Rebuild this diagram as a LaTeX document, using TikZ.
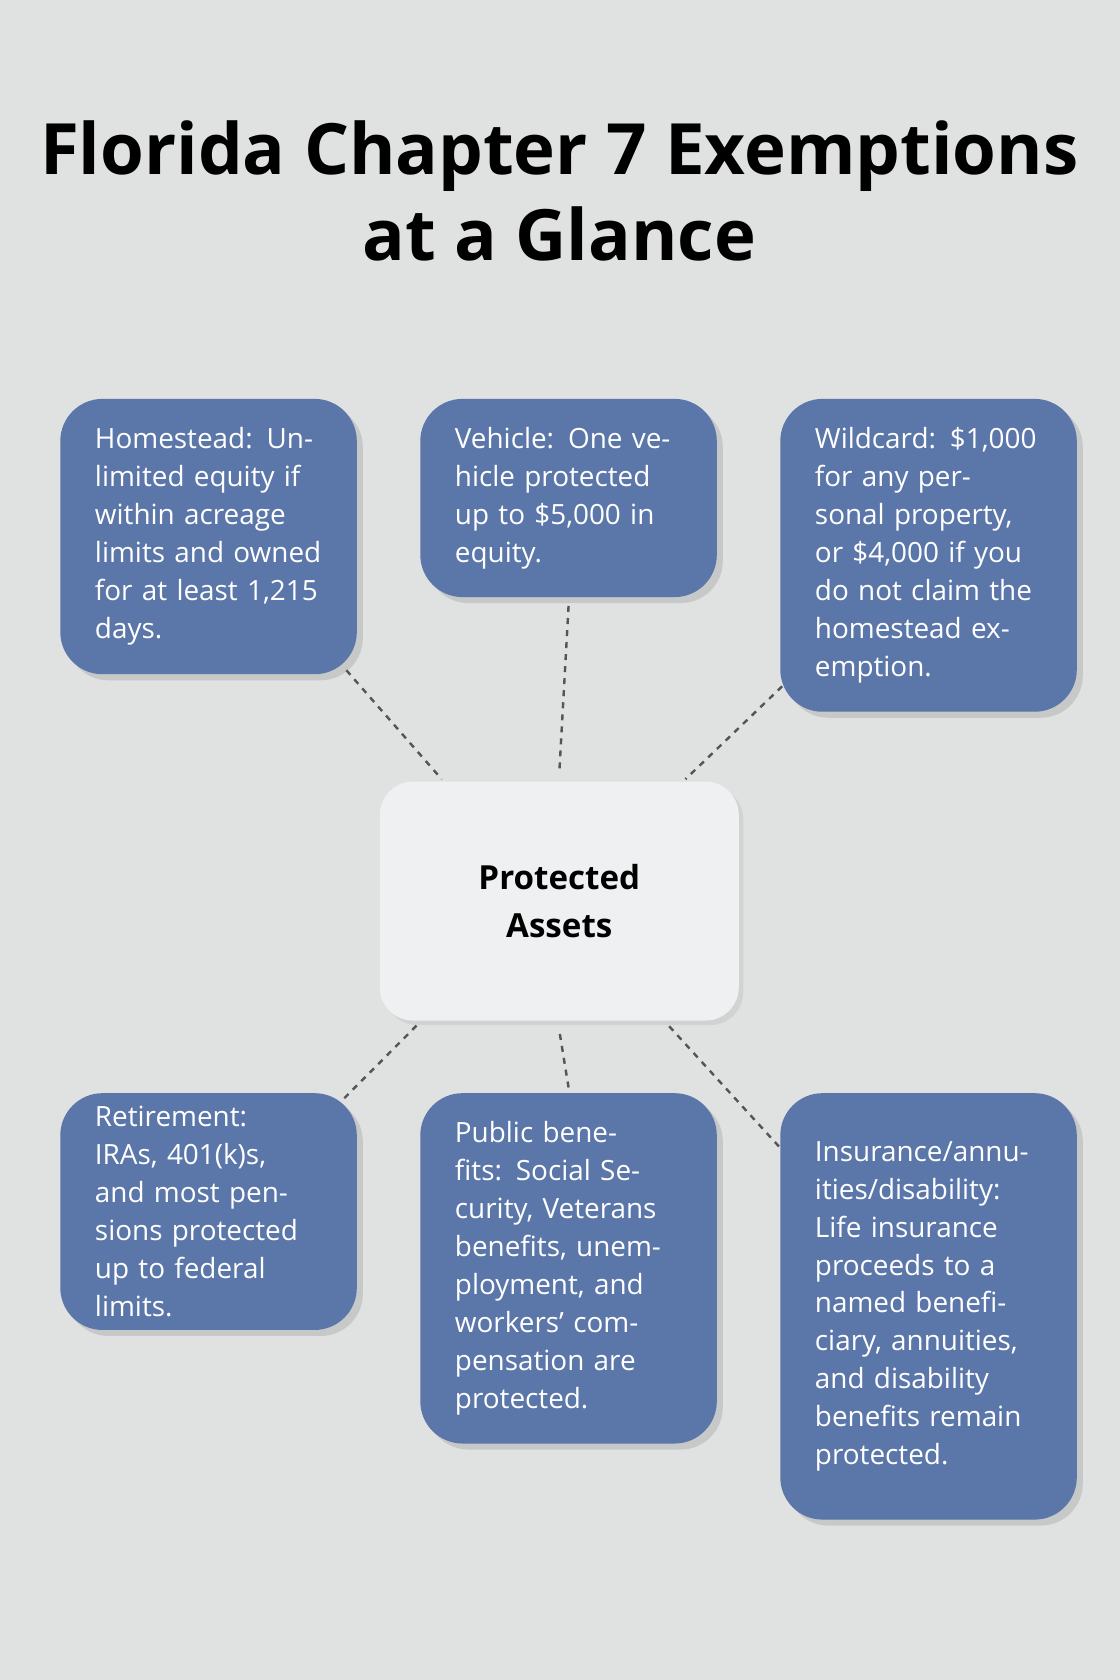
\documentclass[tikz,border=0pt]{standalone}
\usepackage{fontspec}
\setmainfont{Open Sans}
\usetikzlibrary{positioning, calc, shadows}
\definecolor{pagebg}{HTML}{E0E1E1}
\definecolor{cardblue}{HTML}{5B76A8}
\definecolor{hubfill}{HTML}{EFF0F2}
\definecolor{linkgray}{HTML}{555555}
\tikzset{
    card/.style={
        rectangle, rounded corners=28, anchor=north west, fill=cardblue,
        text=white, align=left, inner xsep=23, inner ysep=0,
        text width=5.3cm, font=\fontsize{18.5}{25.2}\selectfont,
        drop shadow={opacity=0.25, shadow xshift=4pt, shadow yshift=-4pt}
    },
    hub/.style={
        rectangle, rounded corners=22, fill=hubfill, text=black, align=center,
        minimum width=335*0.025cm, minimum height=223*0.025cm,
        font=\fontsize{22}{32}\selectfont\bfseries,
        drop shadow={opacity=0.15, shadow xshift=3pt, shadow yshift=-3pt}
    },
    link/.style={draw=linkgray, line width=1.6pt, dash pattern=on 4pt off 4pt},
}
\begin{document}
\begin{tikzpicture}[x=0.025cm, y=-0.025cm]
    \fill[pagebg] (0,0) rectangle (1045,1568);
    \useasboundingbox (0,0) rectangle (1045,1568);

    \node[font=\fontsize{47}{57}\selectfont\bfseries, align=center] (title) at (522,178)
        {Florida Chapter 7 Exemptions\\at a Glance};

    \node[hub] (hub) at (522,841) {Protected\\Assets};

    % top row
    \node[card, minimum height=257*0.025cm] (home) at (56,372)
        {Homestead: Unlimited equity if within acreage limits and owned for at least 1,215 days.};
    \node[card, minimum height=185*0.025cm] (car) at (392,372)
        {Vehicle: One vehicle protected up to \$5,000 in equity.};
    \node[card, minimum height=292*0.025cm] (wild) at (728,372)
        {Wildcard: \$1,000 for any personal property, or \$4,000 if you do not claim the homestead exemption.};

    % bottom row
    \node[card, minimum height=221*0.025cm] (retire) at (56,1020)
        {Retirement: IRAs, 401(k)s, and most pensions protected up to federal limits.};
    \node[card, minimum height=327*0.025cm] (public) at (392,1020)
        {Public benefits: Social Security, Veterans benefits, unemployment, and workers’ compensation are protected.};
    \node[card, minimum height=398*0.025cm] (insure) at (728,1020)
        {Insurance/annu-\\ities/disability: Life insurance proceeds to a named beneficiary, annuities, and disability benefits remain protected.};

    \draw[link] ($(home.south east)+(-10,-4)$) -- ($(hub.north west)+(58,-2)$);
    \draw[link] ($(car.south)+(0,8)$) -- ($(hub.north)+(0,-8)$);
    \draw[link] ($(wild.south west)+(2,-24)$) -- ($(hub.north east)+(-50,-2)$);
    \draw[link] ($(retire.north east)+(-12,5)$) -- ($(hub.south west)+(37,2)$);
    \draw[link] ($(public.north)+(0,-5)$) -- ($(hub.south)+(0,9)$);
    \draw[link] ($(insure.north west)+(-1,50)$) -- ($(hub.south east)+(-68,2)$);
\end{tikzpicture}
\end{document}
